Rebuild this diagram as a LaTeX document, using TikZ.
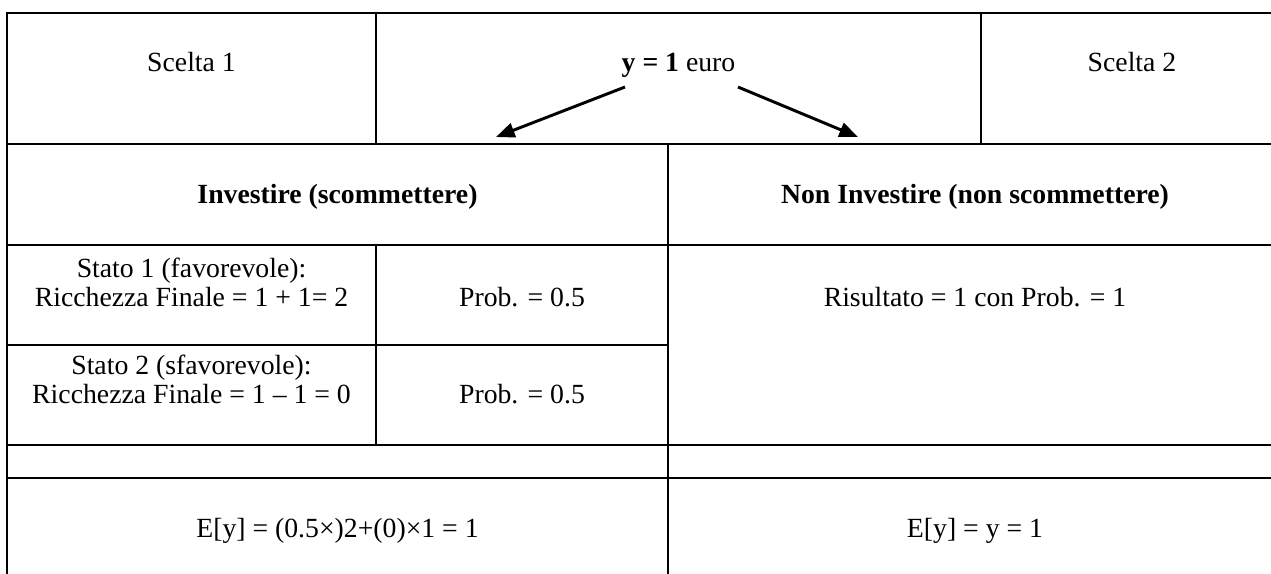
\documentclass[tikz,border=0pt]{standalone}
\usepackage{fontspec}
\setmainfont{Liberation Serif}
\usetikzlibrary{arrows.meta}
\begin{document}
\begin{tikzpicture}[x=0.75pt,y=-0.75pt,
  grid/.style={line width=1.5pt, black},
  txt/.style={anchor=base, inner sep=0pt, font=\fontsize{20.8}{24}\selectfont},
  btxt/.style={anchor=base, inner sep=0pt, font=\fontsize{20.8}{24}\selectfont\bfseries},
  arr/.style={line width=2.2pt, -{Triangle[length=14pt,width=11pt]}}]
\useasboundingbox (0,0) rectangle (1271,574);
% table rules
\draw[grid] (1271,13) -- (7,13) -- (7,574);
\draw[grid] (7,144) -- (1271,144);
\draw[grid] (376,13) -- (376,144);
\draw[grid] (981,13) -- (981,144);
\draw[grid] (7,245) -- (1271,245);
\draw[grid] (668,144) -- (668,574);
\draw[grid] (376,245) -- (376,445);
\draw[grid] (7,345) -- (668,345);
\draw[grid] (7,445) -- (1271,445);
\draw[grid] (7,478) -- (1271,478);
% texts
\node[txt] (s1) at (191.5,72) {Scelta 1};
\node[txt] (y1) at (678.5,72) {\textbf{y = 1} euro};
\node[txt] (s2) at (1132,72) {Scelta 2};
\node[btxt] (inv) at (337.5,204) {Investire (scommettere)};
\node[btxt] (ninv) at (975,204) {Non Investire (non scommettere)};
\node[txt] (st1a) at (191.5,277) {Stato 1 (favorevole):};
\node[txt] (st1b) at (191.5,306) {Ricchezza Finale = 1 + 1= 2};
\node[txt] (p1) at (522,306) {Prob. = 0.5};
\node[txt] (ris) at (975,306) {Risultato = 1 con Prob. = 1};
\node[txt] (st2a) at (191.5,374) {Stato 2 (sfavorevole):};
\node[txt] (st2b) at (191.5,403) {Ricchezza Finale = 1 – 1 = 0};
\node[txt] (p2) at (522,403) {Prob. = 0.5};
\node[txt] (e1) at (337.5,537) {E[y] = (0.5×)2+(0)×1 = 1};
\node[txt] (e2) at (975,537) {E[y] = y = 1};
% arrows
\coordinate (la0) at (625,87);
\coordinate (la1) at (496,137);
\coordinate (ra0) at (738,87);
\coordinate (ra1) at (858,137);
\draw[arr] (la0) -- (la1);
\draw[arr] (ra0) -- (ra1);
\end{tikzpicture}
\end{document}
